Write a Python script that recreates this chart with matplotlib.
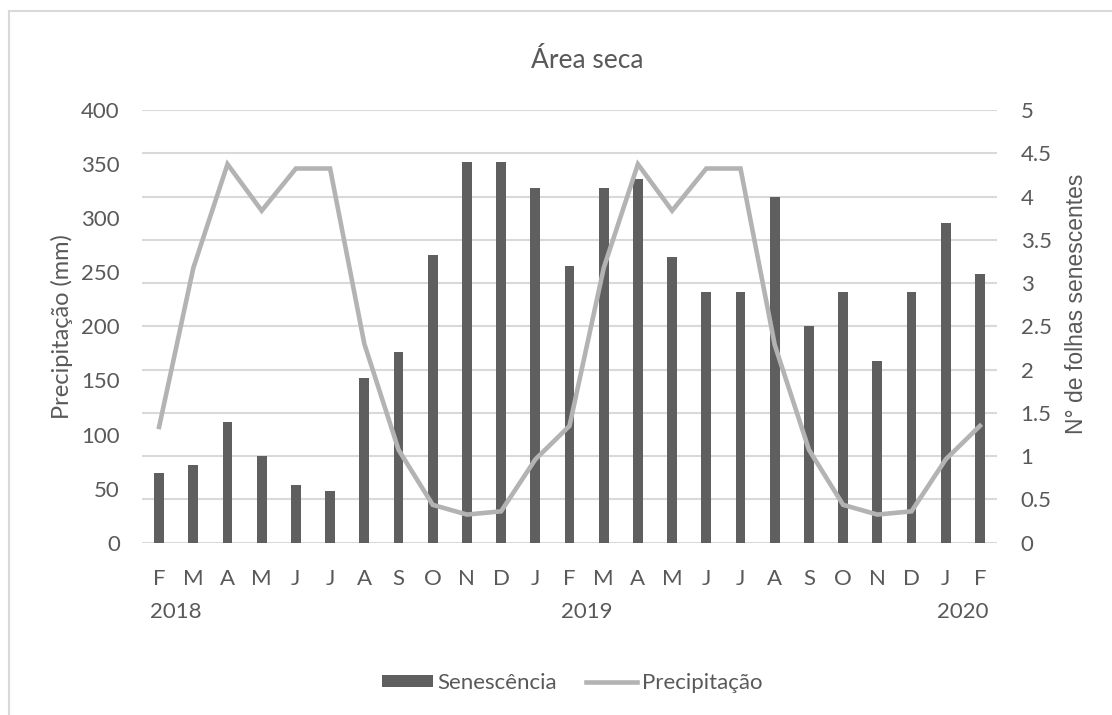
import numpy as np
import matplotlib
matplotlib.use('Agg')
import matplotlib.pyplot as plt
from matplotlib.patches import Rectangle, Patch
from matplotlib.lines import Line2D

meses = ['F', 'M', 'A', 'M', 'J', 'J', 'A', 'S', 'O', 'N', 'D', 'J',
         'F', 'M', 'A', 'M', 'J', 'J', 'A', 'S', 'O', 'N', 'D', 'J', 'F']
anos = ['2018', '2019', '2020']
anos_pos = [0.5, 12.5, 23.5]

# n de folhas senescentes (eixo direito)
senescencia = [0.8, 0.9, 1.4, 1.0, 0.67, 0.6, 1.9, 2.2, 3.33, 4.4, 4.4, 4.1,
               3.2, 4.1, 4.2, 3.3, 2.9, 2.9, 4.0, 2.5, 2.9, 2.1, 2.9, 3.7, 3.1]
# precipitacao em mm (eixo esquerdo)
precipitacao = [107, 254, 350, 307, 346, 346, 184, 86, 35, 26, 29, 77,
                108, 254, 350, 307, 346, 346, 183, 86, 35, 26, 29, 77, 108]

cinza_txt = '#595959'
cor_barra = '#5f5f5f'
cor_linha = '#b3b3b3'
cor_grade = '#d9d9d9'
fonte = 'Lato'

plt.rcParams['font.family'] = fonte

fig = plt.figure(figsize=(11.12, 7.15), dpi=100)
fig.patch.set_facecolor('white')

# moldura do grafico (cortada a direita e embaixo)
fig.patches.append(Rectangle((9 / 1112, -0.05), 1.2, 1 - 11 / 715 + 0.05,
                             transform=fig.transFigure, fill=False,
                             edgecolor=cor_grade, linewidth=1.5))

ax2 = fig.add_axes([0.1277, 0.241, 0.7689, 0.605])
ax1 = ax2.twinx()
ax1.set_zorder(ax2.get_zorder() + 1)
ax1.patch.set_visible(False)

x = np.arange(len(meses))

ax2.bar(x, senescencia, width=0.29, color=cor_barra, zorder=3)
ax2.set_ylim(0, 5)
ax2.set_yticks(np.arange(0, 5.01, 0.5))
ax2.set_yticklabels(['0', '0.5', '1', '1.5', '2', '2.5', '3', '3.5', '4', '4.5', '5'])
ax2.yaxis.tick_right()
ax2.yaxis.set_label_position('right')
ax2.grid(axis='y', color=cor_grade, linewidth=1.5, zorder=0)
ax2.set_axisbelow(True)

ax1.plot(x, precipitacao, color=cor_linha, linewidth=3.3, solid_joinstyle='miter', zorder=4)
ax1.set_ylim(0, 400)
ax1.set_yticks(np.arange(0, 401, 50))
ax1.yaxis.tick_left()
ax1.yaxis.set_label_position('left')

ax2.set_xlim(-0.5, len(meses) - 0.5)
ax2.set_xticks(x)
ax2.set_xticklabels(meses)

for a in (ax1, ax2):
    for s in a.spines.values():
        s.set_visible(False)
    a.tick_params(length=0, labelsize=16, colors=cinza_txt)
ax2.tick_params(axis='y', pad=17)
ax1.tick_params(axis='y', pad=16)
ax2.tick_params(axis='x', pad=19)

for ano, p in zip(anos, anos_pos):
    ax2.text(p, -0.16, ano, transform=ax2.get_xaxis_transform(),
             ha='center', va='center', fontsize=16, color=cinza_txt)

ax1.set_ylabel('Precipitação (mm)', fontsize=17, color=cinza_txt, labelpad=6)
ax2.set_ylabel('N° de folhas senescentes', fontsize=16.5, color=cinza_txt,
               family='Liberation Sans')
ax2.yaxis.set_label_coords(1.0795, 0.552)

fig.text(587 / 1112, 1 - 60 / 715, 'Área seca', ha='center', va='center',
         fontsize=19, color=cinza_txt)

handles = [Patch(facecolor=cor_barra, edgecolor='none'),
           Line2D([0], [0], color=cor_linha, linewidth=3.3)]
fig.legend(handles, ['Senescência', 'Precipitação'], loc='center',
           bbox_to_anchor=(572 / 1112, 1 - 683 / 715), ncol=2, frameon=False,
           fontsize=16, labelcolor=cinza_txt, handlelength=2.3, handleheight=0.45,
           handletextpad=0.2, columnspacing=1.3)

fig.savefig('out.png', dpi=100, facecolor='white')
